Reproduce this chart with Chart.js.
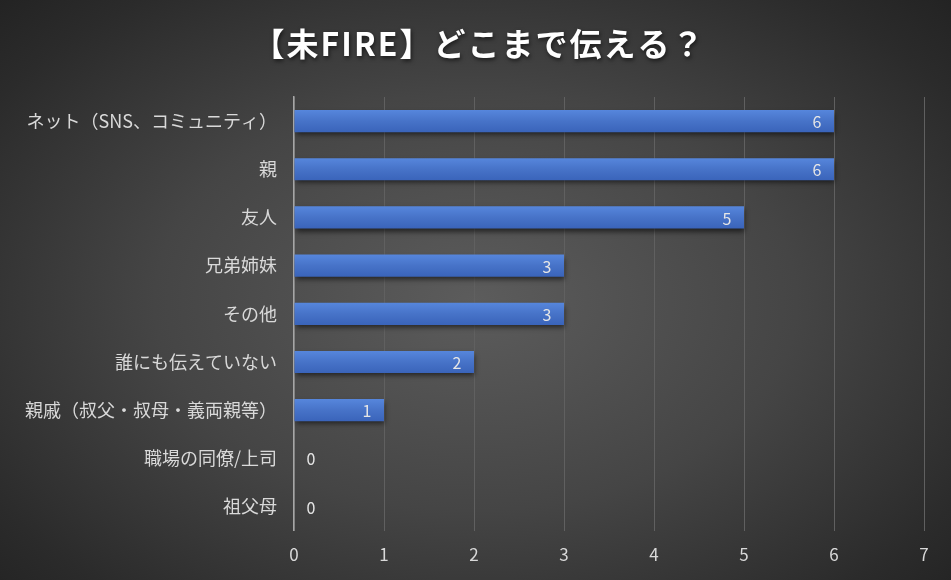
<!DOCTYPE html>
<html lang="ja">
<head>
<meta charset="utf-8">
<script src="https://cdn.jsdelivr.net/npm/chart.js@4"></script>
<style>
  html, body { margin: 0; padding: 0; }
  body { width: 951px; height: 580px; overflow: hidden; }
  #wrap {
    width: 951px; height: 580px; position: relative;
    background: radial-gradient(ellipse 75% 80% at 50% 52%, #5c5c5c 0%, #454545 45%, #2b2b2b 80%, #1f1f1f 100%);
  }
</style>
</head>
<body>
<div id="wrap"><canvas id="chart" width="951" height="580"></canvas></div>
<script>
// Data
const chartTitle = '【未FIRE】どこまで伝える？';
const categories = [
  'ネット（SNS、コミュニティ）',
  '親',
  '友人',
  '兄弟姉妹',
  'その他',
  '誰にも伝えていない',
  '親戚（叔父・叔母・義両親等）',
  '職場の同僚/上司',
  '祖父母'
];
const counts = [6, 6, 5, 3, 3, 2, 1, 0, 0];
const xTicks = [0, 1, 2, 3, 4, 5, 6, 7];

const JP_FONT = '"Noto Sans CJK JP", "Noto Sans", sans-serif';

// bar fill: lighter on top, darker below
function barFill(context) {
  const chart = context.chart;
  const yScale = chart.scales.y;
  if (!yScale || context.type !== 'data') return '#4773c8';
  const yc = yScale.getPixelForValue(context.dataIndex);
  if (!isFinite(yc)) return '#4773c8';
  const half = 11;
  const g = chart.ctx.createLinearGradient(0, yc - half, 0, yc + half);
  g.addColorStop(0, '#5686dc');
  g.addColorStop(0.5, '#4773c8');
  g.addColorStop(1, '#3a64ba');
  return g;
}

// Shadow under the bars
const barShadow = {
  id: 'barShadow',
  beforeDatasetsDraw(chart) {
    const ctx = chart.ctx;
    ctx.save();
    ctx.shadowColor = 'rgba(0,0,0,0.55)';
    ctx.shadowBlur = 5;
    ctx.shadowOffsetY = 3;
    ctx.shadowOffsetX = 1;
  },
  afterDatasetsDraw(chart) {
    chart.ctx.restore();
  }
};

// Value labels at bar end (outside when value is 0)
const valueLabels = {
  id: 'valueLabels',
  afterDatasetsDraw(chart) {
    const ctx = chart.ctx;
    const meta = chart.getDatasetMeta(0);
    const xScale = chart.scales.x;
    ctx.save();
    ctx.font = '16px ' + JP_FONT;
    ctx.fillStyle = '#e6e6e6';
    ctx.textAlign = 'center';
    ctx.textBaseline = 'middle';
    meta.data.forEach((bar, i) => {
      const v = counts[i];
      const x = v === 0 ? xScale.getPixelForValue(0) + 17 : bar.x - 17;
      ctx.fillText(String(v), x, bar.y + 1);
    });
    ctx.restore();
  }
};

// Title with a bit of letter spacing and a soft shadow
const spacedTitle = {
  id: 'spacedTitle',
  afterDraw(chart) {
    const ctx = chart.ctx;
    ctx.save();
    ctx.font = 'bold 32px ' + JP_FONT;
    ctx.letterSpacing = '2px';
    ctx.fillStyle = '#ffffff';
    ctx.textAlign = 'center';
    ctx.textBaseline = 'middle';
    ctx.shadowColor = 'rgba(0,0,0,0.6)';
    ctx.shadowBlur = 4;
    ctx.shadowOffsetX = 1;
    ctx.shadowOffsetY = 2;
    ctx.fillText(chartTitle, 479, 44);
    ctx.restore();
  }
};

new Chart(document.getElementById('chart'), {
  type: 'bar',
  data: {
    labels: categories,
    datasets: [{
      data: counts,
      backgroundColor: barFill,
      borderWidth: 0,
      barPercentage: 0.92,
      categoryPercentage: 0.5
    }]
  },
  options: {
    indexAxis: 'y',
    responsive: false,
    animation: false,
    devicePixelRatio: 1,
    layout: { padding: { left: 0, right: 27, top: 97, bottom: 1 } },
    plugins: {
      legend: { display: false },
      tooltip: { enabled: false },
      title: { display: false }
    },
    scales: {
      x: {
        min: 0,
        max: 7,
        afterBuildTicks(scale) { scale.ticks = xTicks.map(v => ({ value: v })); },
        grid: { color: '#606060', lineWidth: 1, drawTicks: false },
        border: { display: false },
        ticks: {
          color: '#d9d9d9',
          padding: 14,
          font: { family: JP_FONT, size: 17 }
        }
      },
      y: {
        grid: { display: false, drawTicks: false },
        border: { display: true, color: '#a6a6a6', width: 1.5 },
        afterFit(scale) { scale.width = 294; },
        ticks: {
          color: '#d9d9d9',
          padding: 17,
          font: { family: JP_FONT, size: 18 }
        }
      }
    }
  },
  plugins: [barShadow, valueLabels, spacedTitle]
});
</script>
</body>
</html>
